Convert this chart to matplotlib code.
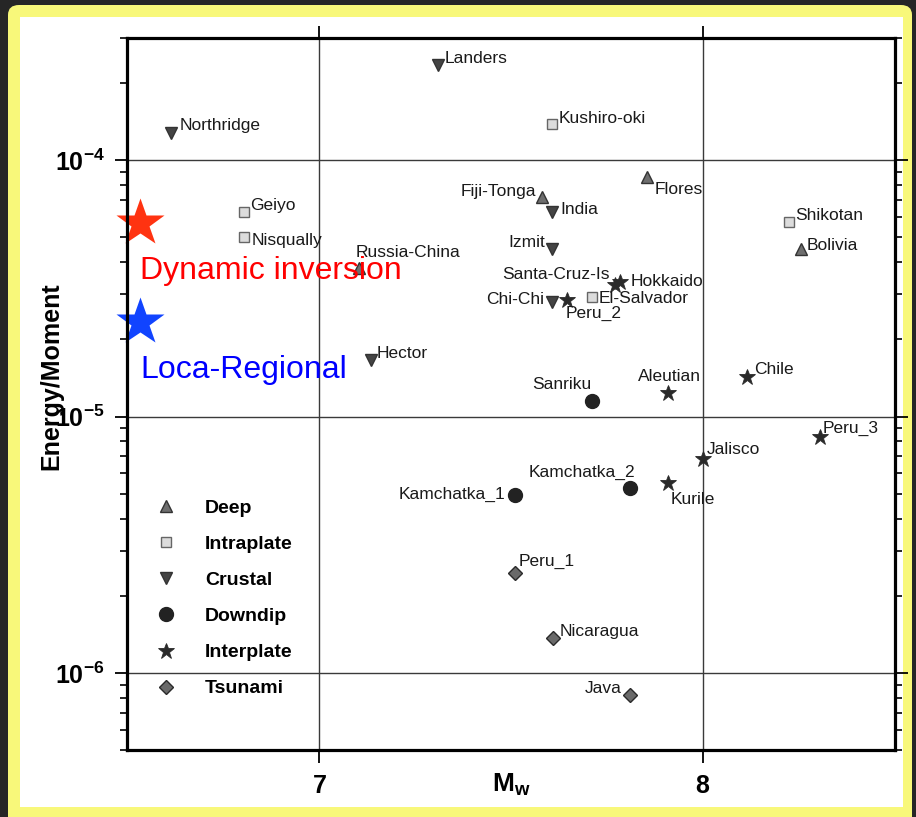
import math
import matplotlib
matplotlib.use("Agg")
import matplotlib.pyplot as plt
from matplotlib.patches import FancyBboxPatch, Rectangle
from matplotlib.ticker import FixedLocator, LogLocator, NullFormatter, FuncFormatter
from matplotlib.lines import Line2D

plt.rcParams["font.family"] = ["Liberation Sans", "DejaVu Sans"]
plt.rcParams["mathtext.fontset"] = "custom"
plt.rcParams["mathtext.rm"] = "Liberation Sans"
plt.rcParams["mathtext.bf"] = "Liberation Sans:bold"
plt.rcParams["mathtext.it"] = "Liberation Sans:italic"

# ---- events: name, moment magnitude Mw, radiated energy / seismic moment ----
deep_names = ["Fiji-Tonga", "Flores", "Bolivia", "Russia-China"]
deep_mw = [7.58, 7.855, 8.255, 7.105]
deep_ratio = [7.2e-5, 8.6e-5, 4.5e-5, 3.8e-5]

intraplate_names = ["Kushiro-oki", "Geiyo", "Nisqually", "El-Salvador", "Shikotan"]
intraplate_mw = [7.608, 6.805, 6.805, 7.71, 8.225]
intraplate_ratio = [1.38e-4, 6.3e-5, 5.0e-5, 2.94e-5, 5.75e-5]

crustal_names = ["Landers", "Northridge", "India", "Izmit", "Chi-Chi", "Hector"]
crustal_mw = [7.31, 6.615, 7.608, 7.608, 7.608, 7.135]
crustal_ratio = [2.35e-4, 1.28e-4, 6.3e-5, 4.5e-5, 2.8e-5, 1.66e-5]

downdip_names = ["Sanriku", "Kamchatka_1", "Kamchatka_2"]
downdip_mw = [7.71, 7.51, 7.81]
downdip_ratio = [1.15e-5, 4.96e-6, 5.28e-6]

interplate_names = ["Santa-Cruz-Is", "Hokkaido", "Peru_2", "Aleutian", "Chile",
                    "Peru_3", "Jalisco", "Kurile"]
interplate_mw = [7.77, 7.785, 7.645, 7.91, 8.115, 8.305, 8.0, 7.91]
interplate_ratio = [3.25e-5, 3.35e-5, 2.84e-5, 1.24e-5, 1.43e-5, 8.3e-6, 6.8e-6, 5.5e-6]

tsunami_names = ["Peru_1", "Nicaragua", "Java"]
tsunami_mw = [7.51, 7.61, 7.81]
tsunami_ratio = [2.46e-6, 1.37e-6, 8.2e-7]

reference_names = ["Dynamic inversion", "Loca-Regional"]
reference_mw = [6.535, 6.535]
reference_ratio = [5.7e-5, 2.33e-5]

# label placement: offset in pixels from the marker and horizontal alignment
label_place = {
    "Landers": (7, 7, "left"), "Northridge": (8, 7, "left"),
    "Geiyo": (6, 6, "left"), "Nisqually": (8, -3, "left"),
    "Russia-China": (-4, 15, "left"), "Hector": (6, 7, "left"),
    "Fiji-Tonga": (-6, 5, "right"), "India": (8, 2, "left"),
    "Flores": (7, -12, "left"), "Izmit": (-7, 7, "right"),
    "Kushiro-oki": (6, 6, "left"),
    "Santa-Cruz-Is": (-5, 11, "right"), "Hokkaido": (10, 1, "left"),
    "El-Salvador": (7, -2, "left"), "Chi-Chi": (-8, 2, "right"),
    "Peru_2": (-1, -13, "left"), "Shikotan": (6, 6, "left"),
    "Bolivia": (6, 4, "left"), "Chile": (7, 7, "left"),
    "Aleutian": (1, 16, "center"), "Peru_3": (3, 9, "left"),
    "Sanriku": (0, 17, "right"), "Kamchatka_1": (-9, 0, "right"),
    "Kamchatka_2": (5, 15, "right"), "Kurile": (2, -16, "left"),
    "Jalisco": (4, 10, "left"), "Peru_1": (4, 11, "left"),
    "Nicaragua": (6, 6, "left"), "Java": (-8, 6, "right"),
}

W, H, DPI = 916, 817, 100
fig = plt.figure(figsize=(W / DPI, H / DPI), dpi=DPI, facecolor="#262626")

# frame around the page
fig.patches.append(FancyBboxPatch((8 / W, -0.05), 904 / W, (H - 5) / H + 0.05,
                                  boxstyle="round,pad=0,rounding_size=0.012",
                                  transform=fig.transFigure, facecolor="#f8f87a",
                                  edgecolor="none", zorder=-3))
fig.patches.append(Rectangle((20 / W, 10 / H), 883 / W, 790 / H,
                             transform=fig.transFigure, facecolor="white",
                             edgecolor="none", zorder=-2))

ax = fig.add_axes([127 / W, 1 - 750 / H, 768 / W, 712 / H])
ax.set_facecolor("none")
ax.set_yscale("log")
ax.set_xlim(6.5, 8.5)
ax.set_ylim(5e-7, 3e-4)

series = [
    ("Deep", deep_names, deep_mw, deep_ratio,
     dict(marker="^", ms=9, mfc="#6e6e6e", mec="#333333", mew=1.0)),
    ("Intraplate", intraplate_names, intraplate_mw, intraplate_ratio,
     dict(marker="s", ms=7, mfc="#dcdcdc", mec="#666666", mew=1.0)),
    ("Crustal", crustal_names, crustal_mw, crustal_ratio,
     dict(marker="v", ms=9, mfc="#444444", mec="#333333", mew=1.0)),
    ("Downdip", downdip_names, downdip_mw, downdip_ratio,
     dict(marker="o", ms=10, mfc="#222222", mec="#222222", mew=1.0)),
    ("Interplate", interplate_names, interplate_mw, interplate_ratio,
     dict(marker="*", ms=12, mfc="#2a2a2a", mec="#2a2a2a", mew=0.6)),
    ("Tsunami", tsunami_names, tsunami_mw, tsunami_ratio,
     dict(marker="D", ms=7.5, mfc="#6a6a6a", mec="#2a2a2a", mew=1.0)),
]

handles = []
for label, names, mw, ratio, style in series:
    ax.plot(mw, ratio, ls="none", zorder=4, **style)
    handles.append(Line2D([], [], ls="none", label=label, **style))
    for n, x, y in zip(names, mw, ratio):
        dx, dy, ha = label_place[n]
        ax.annotate(n, (x, y), xytext=(dx, dy), textcoords="offset pixels",
                    ha=ha, va="center", fontsize=12.5, color="#1a1a1a", zorder=5)

# reference estimates
ref_colors = ["#ff3311", "#1144ff"]
ref_text_colors = ["#ff0000", "#0000ff"]
for n, x, y, c, tc in zip(reference_names, reference_mw, reference_ratio,
                          ref_colors, ref_text_colors):
    ax.plot([x], [y], ls="none", marker="*", ms=36, mfc=c, mec="none",
            clip_on=False, zorder=6)
    ax.annotate(n, (x, y), xytext=(0, -48), textcoords="offset pixels",
                ha="left", va="center", fontsize=23, color=tc, zorder=6)

ax.legend(handles=handles, loc="upper left", bbox_to_anchor=(0.038, 0.352),
          frameon=False, borderpad=0, borderaxespad=0, numpoints=1,
          handlelength=1.0, handletextpad=1.5, labelspacing=0.95,
          prop={"size": 14, "weight": "bold"})

# axes styling
for s in ax.spines.values():
    s.set_linewidth(2.3)
    s.set_color("black")
    s.set_zorder(7)

ax.xaxis.set_major_locator(FixedLocator([7, 8]))
ax.xaxis.set_minor_locator(FixedLocator([]))
ax.xaxis.set_major_formatter(FuncFormatter(lambda v, p: r"$\mathbf{%d}$" % round(v)))
ax.yaxis.set_major_locator(FixedLocator([1e-6, 1e-5, 1e-4]))
ax.yaxis.set_minor_locator(LogLocator(base=10, subs=[2, 3, 4, 5, 6, 7, 8, 9], numticks=20))
ax.yaxis.set_minor_formatter(NullFormatter())
ax.yaxis.set_major_formatter(FuncFormatter(
    lambda v, p: r"$\mathbf{10^{%d}}$" % round(math.log10(v))))

ax.tick_params(which="major", direction="out", length=9, width=1.3, color="black",
               top=True, right=True, labelsize=18, pad=7)
ax.tick_params(which="minor", direction="out", length=5, width=1.2, color="black",
               top=False, right=True, left=True)
ax.tick_params(axis="x", which="major", pad=8)

ax.grid(True, which="major", color="#3a3a3a", lw=1.0, zorder=1)
ax.set_axisbelow(True)

ax.set_ylabel("Energy/Moment", fontsize=18, fontweight="bold")
ax.yaxis.set_label_coords(-0.083, 0.525)
ax.set_xlabel(r"$\mathbf{M_w}$", fontsize=19)
ax.xaxis.set_label_coords(0.5, -0.03)

fig.savefig("out.png", dpi=DPI, facecolor=fig.get_facecolor())
